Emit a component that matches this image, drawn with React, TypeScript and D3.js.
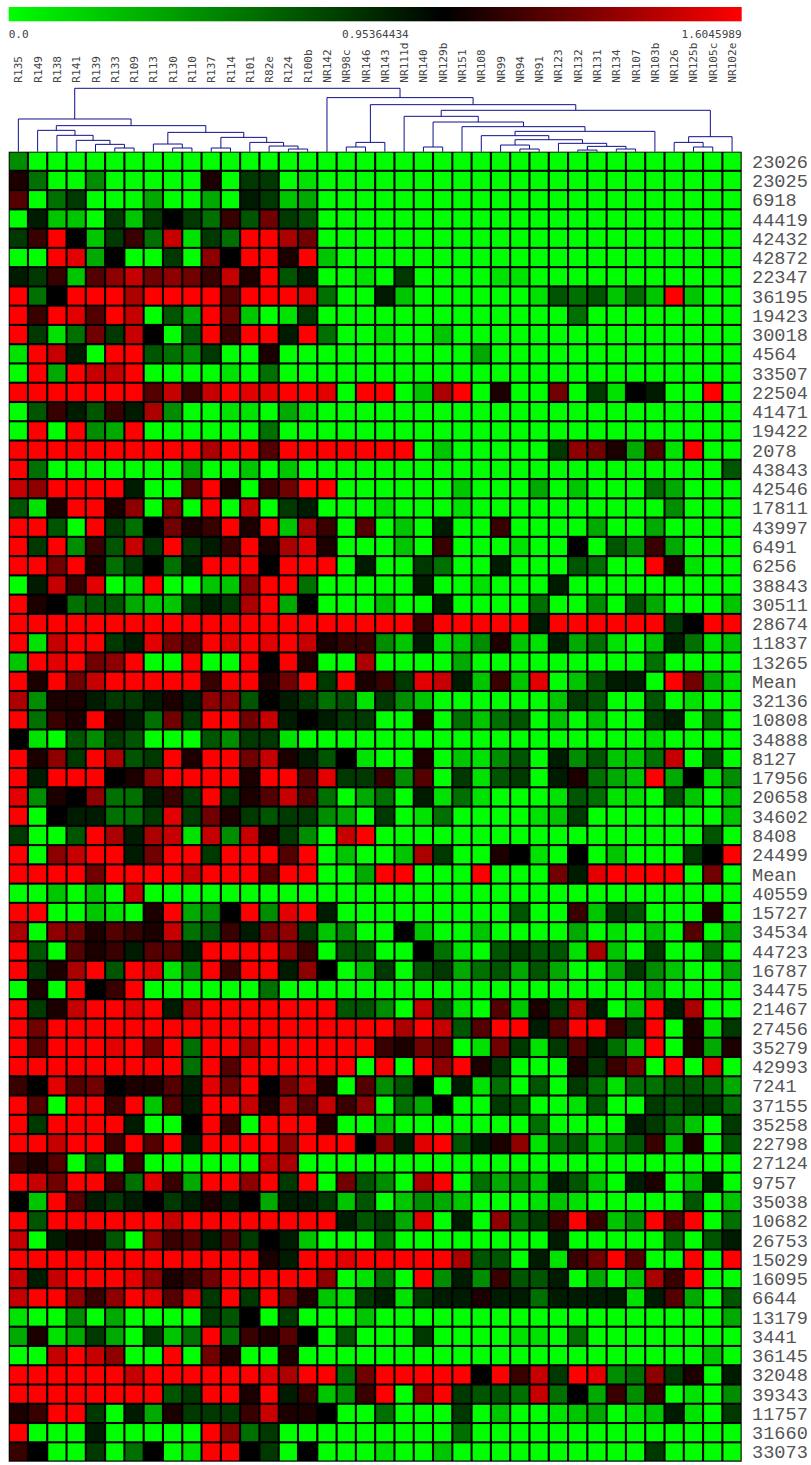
import React from "react";
import * as d3 from "d3";

const colLabels = ["R135","R149","R138","R141","R139","R133","R109","R113","R130","R110","R137","R114","R101","R82e","R124","R100b","NR142","NR98c","NR146","NR143","NR111d","NR140","NR129b","NR151","NR108","NR99","NR94","NR91","NR123","NR132","NR131","NR134","NR107","NR103b","NR126","NR125b","NR105c","NR102e"];

const rowLabels = ["23026","23025","6918","44419","42432","42872","22347","36195","19423","30018","4564","33507","22504","41471","19422","2078","43843","42546","17811","43997","6491","6256","38843","30511","28674","11837","13265","Mean","32136","10808","34888","8127","17956","20658","34602","8408","24499","Mean","40559","15727","34534","44723","16787","34475","21467","27456","35279","42993","7241","37155","35258","22798","27124","9757","35038","10682","26753","15029","16095","6644","13179","3441","36145","32048","39343","11757","31660","33073"];

// a = lowest (pure green), j = middle (black), s = highest (pure red)
// written in groups of five, rows that end in "a" are left short
const rowLevels = [
  "e",
  "kfaae aaaaa kahha b",
  "mafha aadaa daihc d",
  "aicca hchjh flgnh g",
  "hlsjc hlfqb hfssp n",
  "aasrd jaaha ojssk sc",
  "ihlcm oqnon lqksg iaaba haaaa bb",
  "sfjss spsss smsss rfaai caaaa aabgf gcfcs caa",
  "slsrm sqagd sncab haaaa aaaaa aaaaf",
  "shbfn hqjag slssi sfaab aacaa",
  "bsqia ssgfe haaka aaaaa aaaad",
  "asdsq qsaaa abaf",
  "sssss ssmql qsrrs srass acpsa kaana hbjia asa",
  "aglig lipea abbad b",
  "asase dsaaa aaaf",
  "sssss sssss pssms sssss sacaa aaaho nkdmb saa",
  "sfaaa aaaad aacac aaaaa aaaaa aaaaa aaaaa aag",
  "qosss siaam skaln ssaaa aaaca aadac aaafd",
  "gbkss koaoa saqah iaaab aaaba aaaaa aaaae",
  "ssgas hfjnk lsksc plama caiaa laaaa daada",
  "shsel gqhsh ilskp rkaaa calaa abaaj ageld",
  "ssnsk fhjfi sssjs ssaia ahfaa iaaag faask baa",
  "aiqlr absaa ccoss faaaa aiaab aaaia",
  "skjfg gdcch ihpsd jaaac aaiaa aafaa eagda aac",
  "sssss sssss sssss sssss slsss ssiss ssssh jss",
  "sbqss hirnm srsrs qklle cibce kcbid fbaci fbc",
  "csrsn osaas aasjs kaapa aaada aaaaa aaafa",
  "sksnq sssss lsskn shskl hrqic lcrac giias ndb",
  "pekki hhiki oogji hfgbh ecaaa aaach gaaga baa",
  "sflks kifnh ssnqi jihha akafc fgaca caahi afa",
  "jbage hgaaa gehhb aaaaa aaaaa aaaaa aaaba",
  "skohs pghsk ssnqk igjba akacb egaie gccfq aga",
  "sisss jkoss sskss mrhhl emahb ghaik fdcsd jbe",
  "rekjo ffilh shkmq mfadf aibfb aaabg fbbag cac",
  "sajii ffhrh nkhgh hedah abfaa aabch aaaaa aac",
  "haags pipqb qeqkh eaqsa aaaaa aaaaa aaaaa aga",
  "saoqs sinss hsssm sacaa cphaa kjbaj acaaa hjs",
  "ssssn ssssq sssms saads saaas aaani rssss ana",
  "aacac aq",
  "ssaac baksd ejser siaaa aaaaa agaal chgaa aka",
  "paonk mlkqf glino hceaa jcaac aaaad abaca mad",
  "sgamk limmi sssso lagga ajfba ghggb pcaha afa",
  "shkps gsrbe slssi ojach aghdf gdgda adhec aad",
  "akasj lsaaa aaafa aaaaa aaaaa aaaaa aaaca",
  "shkqs srsip sssss ssgge aqgba mckhp iacsi paa",
  "snsss sssss sssss sssss psqgm ssims slhsa kbh",
  "smsss rsnsf sspss ssssl knmab nhbhm ifcsa kdk",
  "sssss ssssf smsss sssas asosk haaak hlnas ara",
  "ljrmn jkkmi rnsjn qkame gjaib fagah fbffg gfd",
  "smass lscmi ssqkp mqloa fdjaa hgaab gaahg hhf",
  "shsss siaaj slass skaac aaaaa aafaa aaihf cah",
  "ssqss lsmsi sssso sssjo irsgi kobfg ceglc kag",
  "lkmag alaaa aaaqp",
  "sqnss lfrld ssosh sange apsaf decig caika cia",
  "jcsmi hijhi kijdi ihcga cedca aabcb aaaaa gac",
  "sgsss sssqs sssss ssigh draia ofhls lcesm saf",
  "qaikk gaolm imhji caaaf aaaaa aaaia aaaaf agi",
  "sssss sssss ssski ssrss ssspg gaibl nsmaa sas",
  "qiqss srokl nssss soabf aseie lggia dacpl saa",
  "qssol osrmr hshsn kcbhi bhiik iifii iibim dag",
  "baaea daaaa hgjah aaaca aaaaa aaaaa aaaaa aad",
  "dkbdh dahcf sflkm jagaa ahaaa abbaf",
  "aaqsq oaasa nkaak aaaaa aaaaa aaaaa aaaaa aca",
  "sssss sqsss sssrp ssfns ssssj slqhs refoh kai",
  "sssss sssgh ssksi lcels aoshg gfqfj dlela bae",
  "klssh aidkh hhlqk kjaaf aaaha caabc dabci bah",
  "saaai aaaaa sofha aaaaa aaafa",
  "ljaah afjab ssjha jaaab aacaa aaaaa aaaha",
];

// column clustering: ids below 38 are columns, id 38 + k is the k-th merge
const mergeLeft = [5,4,3,2,1,8,7,10,14,13,12,45,44,42,0,17,53,21,26,25,29,31,58,28,57,24,63,23,55,20,35,34,69,67,54,16,52];
const mergeRight = [6,38,39,40,41,9,43,11,15,46,47,48,49,50,51,18,19,22,27,56,30,32,59,60,61,62,33,64,65,66,36,68,37,70,71,72,73];
const mergeDistance = [0.058,0.116,0.179,0.258,0.337,0.058,0.121,0.058,0.042,0.089,0.147,0.226,0.305,0.411,0.516,0.074,0.147,0.074,0.042,0.105,0.026,0.042,0.084,0.132,0.189,0.253,0.321,0.395,0.468,0.558,0.074,0.147,0.237,0.653,0.742,0.853,1];

const scaleMin = 0;
const scaleMid = 0.95364434;
const scaleMax = 1.6045989;

const W = 811;
const H = 1465;
const left = 8.7;
const right = 741.7;
const top = 151.7;
const bottom = 1461.7;

const x = d3.scaleBand<number>().domain(d3.range(colLabels.length)).range([left, right]);
const y = d3.scaleBand<number>().domain(d3.range(rowLabels.length)).range([top, bottom]);
const color = d3.scaleLinear<string>().domain([scaleMin, scaleMid, scaleMax]).range(["#00ff00", "#000000", "#ff0000"]);
const distY = d3.scaleLinear().domain([0, 1]).range([top, 88.3]);
const levelValue = d3.scaleLinear().domain([0, 9, 18]).range([scaleMin, scaleMid, scaleMax]);

const cells = rowLevels.map(r => r.replace(/\s/g, "").padEnd(colLabels.length, "a"));

function treeLines() {
  const nodes = new Map<number, { x: number; d: number }>();
  colLabels.forEach((_, i) => nodes.set(i, { x: x(i)! + x.bandwidth() / 2, d: 0 }));
  const link = d3.line();
  return mergeDistance.map((d, k) => {
    const a = nodes.get(mergeLeft[k])!;
    const b = nodes.get(mergeRight[k])!;
    nodes.set(colLabels.length + k, { x: (a.x + b.x) / 2, d });
    return link([
      [a.x, distY(a.d)],
      [a.x, distY(d)],
      [b.x, distY(d)],
      [b.x, distY(b.d)],
    ])!;
  });
}

export default function App() {
  const mono = "'DejaVu Sans Mono', monospace";
  return (
    <svg width={W} height={H} style={{ position: "absolute", left: 0, top: 0, background: "#fff" }}>
      <defs>
        <linearGradient id="legend">
          <stop offset="0" stopColor={color(scaleMin)} />
          <stop offset={scaleMid / scaleMax} stopColor={color(scaleMid)} />
          <stop offset="1" stopColor={color(scaleMax)} />
        </linearGradient>
      </defs>
      <rect x={left} y={7} width={right - left} height={14.3} fill="url(#legend)" />
      <g fontFamily={mono} fontSize={11.1} fill="#444">
        <text x={left} y={38}>0.0</text>
        <text x={342} y={38}>{scaleMid.toFixed(8)}</text>
        <text x={right} y={38} textAnchor="end">{scaleMax.toFixed(7)}</text>
        {colLabels.map((c, i) => (
          <text key={i} transform={`translate(${x(i)! + x.bandwidth() / 2 + 4},82.7) rotate(-90)`}>{c}</text>
        ))}
      </g>
      <g fill="none" stroke="#10108c" strokeWidth={1}>
        {treeLines().map((d, i) => <path key={i} d={d} />)}
      </g>
      <rect x={left} y={top} width={right - left} height={bottom - top} fill="#000" />
      {cells.map((row, r) =>
        Array.from(row).map((ch, c) => (
          <rect
            key={`${r}-${c}`}
            x={x(c)! + 1}
            y={y(r)! + 0.9}
            width={x.bandwidth() - 2.1}
            height={y.bandwidth() - 2.1}
            fill={color(levelValue(ch.charCodeAt(0) - 97))}
          />
        ))
      )}
      <g fontFamily="'Liberation Mono', monospace" fontSize={18.6} fill="#555">
        {rowLabels.map((l, r) => (
          <text key={r} x={752} y={y(r)! + y.bandwidth() / 2 + 6.4}>{l}</text>
        ))}
      </g>
    </svg>
  );
}
